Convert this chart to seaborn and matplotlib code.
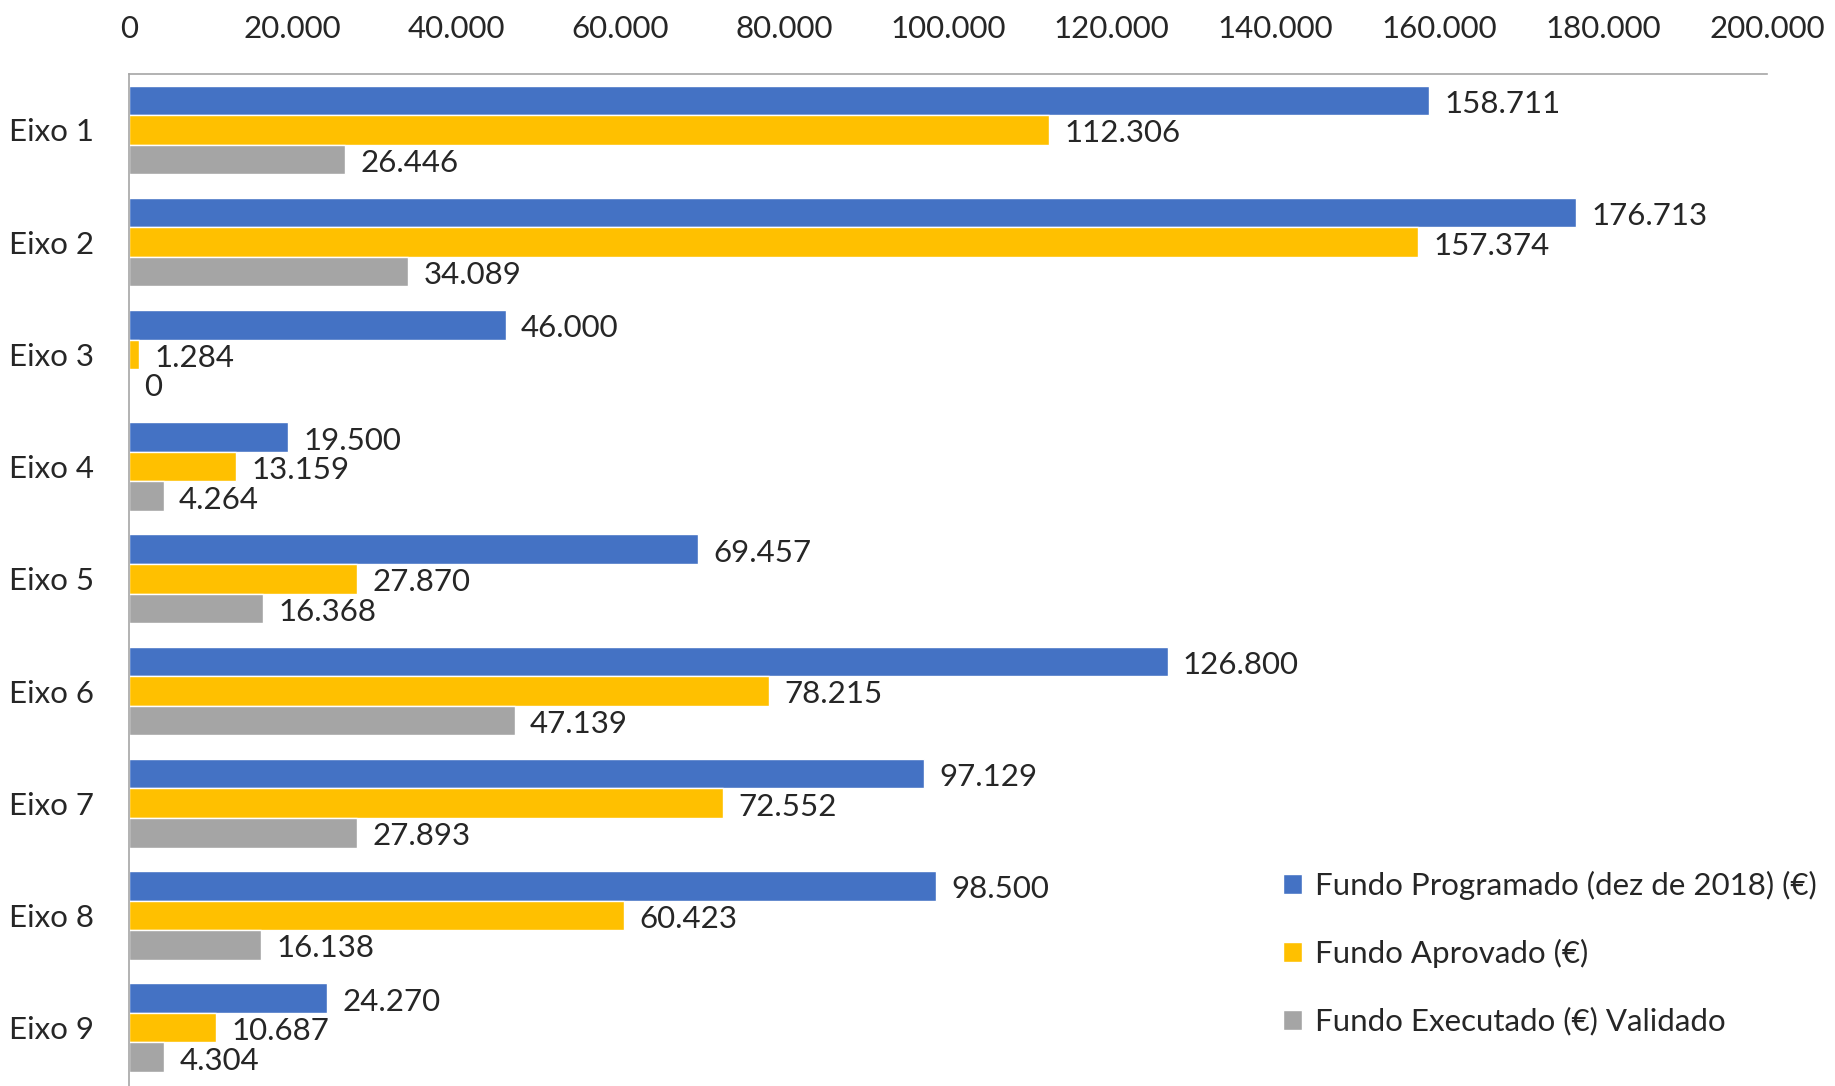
import numpy as np
import pandas as pd
import matplotlib
matplotlib.use("Agg")
import matplotlib.pyplot as plt
from matplotlib.ticker import FuncFormatter, MultipleLocator
import seaborn as sns

# data
eixos = ["Eixo 1", "Eixo 2", "Eixo 3", "Eixo 4", "Eixo 5", "Eixo 6", "Eixo 7", "Eixo 8", "Eixo 9"]
programado = [158711, 176713, 46000, 19500, 69457, 126800, 97129, 98500, 24270]
aprovado = [112306, 157374, 1284, 13159, 27870, 78215, 72552, 60423, 10687]
executado = [26446, 34089, 0, 4264, 16368, 47139, 27893, 16138, 4304]
series = ["Fundo Programado (dez de 2018) (€)", "Fundo Aprovado (€)", "Fundo Executado (€) Validado"]
colors = ["#4472C4", "#FFC000", "#A5A5A5"]

df = pd.DataFrame({"Eixo": eixos * 3,
                   "Valor": programado + aprovado + executado,
                   "Serie": [series[0]] * 9 + [series[1]] * 9 + [series[2]] * 9})

sns.set_style("white")
plt.rcParams['font.family'] = ['Lato', 'DejaVu Sans']
fs = 22.5


def pt(v, pos=None):
    return f"{int(v):,}".replace(",", ".")


fig = plt.figure(figsize=(18.35, 10.86), dpi=100)
ax = fig.add_axes([0.0701, 0.0, 0.893, 0.932])
sns.barplot(data=df, y="Eixo", x="Valor", hue="Serie", orient="h", palette=colors,
            width=0.79, ax=ax, legend=True, saturation=1, errorbar=None)

for cont in ax.containers:
    vals = [b.get_width() for b in cont]
    anns = ax.bar_label(cont, labels=[pt(v) for v in vals], padding=11, fontsize=fs)
    for a in anns:
        a.xyann = (11, -2.5)  # labels sit a touch below bar centre

ax.set_xlim(0, 200000)
ax.set_ylim(8.52, -0.5)
ax.xaxis.set_major_locator(MultipleLocator(20000))
ax.xaxis.set_major_formatter(FuncFormatter(pt))
ax.xaxis.tick_top()
ax.tick_params(axis="x", length=0, pad=22, labelsize=fs)
ax.tick_params(axis="y", length=0, pad=25, labelsize=fs)
ax.set_xlabel("")
ax.set_ylabel("")
for s in ["right", "bottom"]:
    ax.spines[s].set_visible(False)
for s in ["top", "left"]:
    ax.spines[s].set_color("#A6A6A6")
    ax.spines[s].set_linewidth(1.2)

ax.legend(loc="upper left", bbox_to_anchor=(0.684, 0.224), bbox_transform=fig.transFigure,
          frameon=False, fontsize=fs, handlelength=0.6, handleheight=0.6,
          handletextpad=0.4, labelspacing=1.25)

plt.savefig("out.png", dpi=100)
